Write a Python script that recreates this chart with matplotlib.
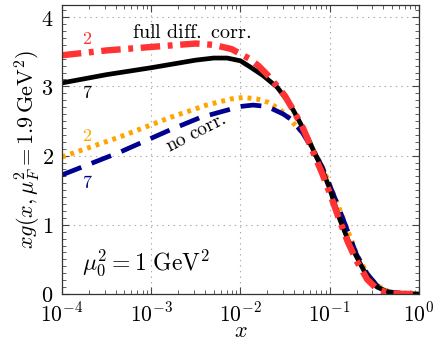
import numpy as np
import matplotlib
matplotlib.use("Agg")
import matplotlib.pyplot as plt
from matplotlib.ticker import FixedLocator, MultipleLocator, FuncFormatter, LogLocator

plt.rcParams['mathtext.fontset'] = 'cm'
plt.rcParams['font.family'] = 'serif'
plt.rcParams['font.serif'] = ['DejaVu Serif']
plt.rcParams['lines.scale_dashes'] = False

# log10(x) positions and xg values
lx_full7 = [-4.0, -3.5, -3.0, -2.5, -2.3, -2.15, -2.0, -1.89, -1.75, -1.59, -1.5, -1.41,
            -1.33, -1.25, -1.17, -1.09, -1.0, -0.96, -0.885, -0.795, -0.68, -0.58,
            -0.47, -0.33, -0.15, 0.0]
xg_full7 = [3.05, 3.17, 3.27, 3.38, 3.41, 3.41, 3.37, 3.28, 3.16, 2.99, 2.84, 2.66,
            2.47, 2.27, 2.04, 1.82, 1.52, 1.36, 1.07, 0.78, 0.49, 0.25,
            0.10, 0.02, 0.0, 0.0]

lx_full2 = [-4.0, -3.5, -3.0, -2.5, -2.3, -2.1, -1.9, -1.8, -1.7, -1.6, -1.5, -1.41,
            -1.3, -1.17, -1.09, -1.0, -0.9, -0.8, -0.7, -0.58, -0.47, -0.33, -0.15, 0.0]
xg_full2 = [3.45, 3.52, 3.57, 3.62, 3.60, 3.54, 3.40, 3.30, 3.17, 3.02, 2.86, 2.66,
            2.40, 2.00, 1.76, 1.46, 1.10, 0.76, 0.48, 0.21, 0.07, 0.01, 0.0, 0.0]

lx_no2 = [-4.0, -3.35, -2.79, -2.38, -2.1, -1.97, -1.82, -1.69, -1.56, -1.46, -1.36,
          -1.28, -1.2, -1.09, -1.0, -0.9, -0.8, -0.7, -0.58, -0.47, -0.33, -0.15, 0.0]
xg_no2 = [1.98, 2.27, 2.55, 2.73, 2.82, 2.84, 2.82, 2.77, 2.67, 2.55, 2.40,
          2.30, 2.12, 1.86, 1.58, 1.26, 0.92, 0.58, 0.29, 0.12, 0.03, 0.0, 0.0]

lx_no7 = [-4.0, -3.35, -2.79, -2.45, -2.0, -1.86, -1.7, -1.52, -1.44, -1.31, -1.2,
          -1.09, -1.0, -0.9, -0.8, -0.7, -0.58, -0.47, -0.33, -0.15, 0.0]
xg_no7 = [1.72, 2.05, 2.37, 2.55, 2.71, 2.73, 2.71, 2.60, 2.53, 2.34, 2.11,
          1.85, 1.57, 1.25, 0.91, 0.57, 0.29, 0.12, 0.03, 0.0, 0.0]

xticks = [1e-4, 1e-3, 1e-2, 1e-1, 1e0]
yticks = [0, 1, 2, 3, 4]

red = '#ff3333'
orange = '#ffa500'
navy = '#000090'

fig = plt.figure(figsize=(4.36, 3.41), dpi=100)
ax = fig.add_axes([0.142, 0.138, 0.819, 0.848])

ax.grid(True, which='major', color='#aaaaaa', linestyle=(0, (1, 3)), linewidth=0.8)

l, = ax.plot(10**np.array(lx_no2), xg_no2, color=orange, lw=3.6, solid_capstyle='butt')
l.set_dashes([2.8, 3.6])
l, = ax.plot(10**np.array(lx_no7), xg_no7, color=navy, lw=3.4)
l.set_dashes([15, 8])
ax.plot(10**np.array(lx_full7), xg_full7, color='black', lw=3.4)
l, = ax.plot(10**np.array(lx_full2), xg_full2, color=red, lw=4.6)
l.set_dashes([14, 5.5, 3.5, 5.5])

ax.set_xscale('log')
ax.set_xlim(1e-4, 1)
ax.set_ylim(0, 4.18)
ax.xaxis.set_major_locator(FixedLocator(xticks))
ax.xaxis.set_minor_locator(LogLocator(base=10, subs=np.arange(2, 10)))
ax.xaxis.set_major_formatter(FuncFormatter(lambda v, p: r'$10^{%d}$' % round(np.log10(v))))
ax.yaxis.set_major_locator(FixedLocator(yticks))
ax.yaxis.set_minor_locator(MultipleLocator(0.1))
ax.yaxis.set_major_formatter(FuncFormatter(lambda v, p: r'$%d$' % v))

ax.tick_params(which='both', direction='in', top=True, right=True, labelsize=16, color='#444444')
ax.tick_params(axis='x', which='major', pad=6, labelsize=15.5)
ax.tick_params(axis='y', which='major', pad=6)
ax.tick_params(which='major', length=5, width=0.8)
ax.tick_params(which='minor', length=3, width=0.6)
for s in ax.spines.values():
    s.set_color('#333333')
    s.set_linewidth(0.9)

ax.set_xlabel(r'$x$', fontsize=16, labelpad=-4)
ax.set_ylabel(r'$xg(x,\mu_F^2=1.9\,\mathrm{GeV}^2)$', fontsize=16, labelpad=-1)

ax.text(10**-3.72, 3.69, r'$2$', color=red, fontsize=13, ha='center', va='center')
ax.text(10**-3.72, 2.90, r'$7$', color='black', fontsize=13, ha='center', va='center')
ax.text(10**-3.72, 2.29, r'$2$', color=orange, fontsize=13, ha='center', va='center')
ax.text(10**-3.72, 1.60, r'$7$', color=navy, fontsize=13, ha='center', va='center')
ax.text(10**-2.55, 3.78, r'$\mathrm{full\ diff.\ corr.}$', fontsize=14.5, ha='center', va='center')
ax.text(10**-2.5, 2.33, r'$\mathrm{no\ corr.}$', fontsize=14, ha='center', va='center', rotation=27)
ax.text(10**-3.77, 0.45, r'$\mu_0^2 = 1\ \mathrm{GeV}^2$', fontsize=17, ha='left', va='center')

fig.savefig('out.png', dpi=100)
